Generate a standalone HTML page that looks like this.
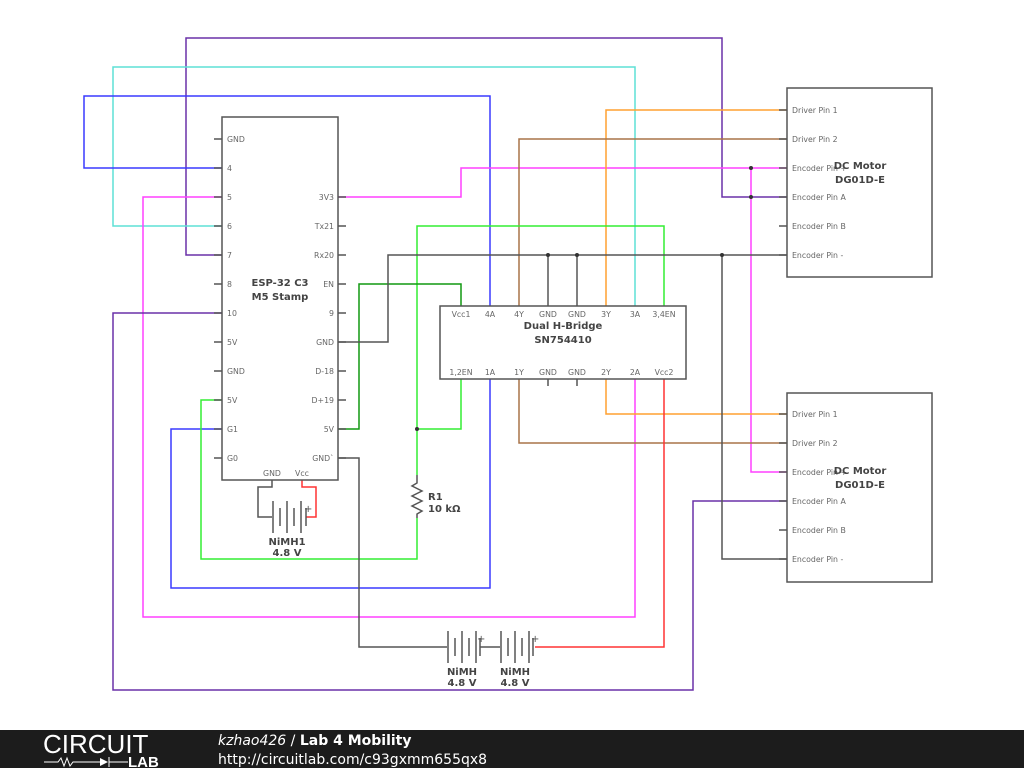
<!DOCTYPE html>
<html><head><meta charset="utf-8"><style>
body{margin:0;width:1024px;height:768px;overflow:hidden;background:#fff}
svg{display:block}
text{font-family:"DejaVu Sans","Liberation Sans",sans-serif}
.p{font-size:7.8px;fill:#666}
.t{font-size:10px;font-weight:bold;fill:#444}
</style></head><body>
<svg width="1024" height="768" viewBox="0 0 1024 768">
<g fill="none" stroke-width="1.5" stroke-linejoin="miter">
<polyline stroke="#6a30a8" points="222,255 186,255 186,38 722,38 722,197 787,197"/>
<polyline stroke="#5fe0d6" points="222,226 113,226 113,67 635,67 635,306"/>
<polyline stroke="#3a3aff" points="222,168 84,168 84,96 490,96 490,306"/>
<polyline stroke="#3a3aff" points="490,379 490,588 171,588 171,429 222,429"/>
<polyline stroke="#ff40ff" points="338,197 461,197 461,168 787,168"/>
<polyline stroke="#ff40ff" points="751,168 751,472 787,472"/>
<polyline stroke="#ff40ff" points="222,197 143,197 143,617 635,617 635,379"/>
<polyline stroke="#6a30a8" points="222,313 113,313 113,690 693,690 693,501 787,501"/>
<polyline stroke="#ffa030" points="606,306 606,110 787,110"/>
<polyline stroke="#ffa030" points="606,379 606,414 787,414"/>
<polyline stroke="#a87448" points="519,306 519,139 787,139"/>
<polyline stroke="#a87448" points="519,379 519,443 787,443"/>
<polyline stroke="#33ee33" points="664,306 664,226 417,226 417,475"/>
<polyline stroke="#33ee33" points="417,429 461,429 461,379"/>
<polyline stroke="#33ee33" points="417,518 417,559 201,559 201,400 222,400"/>
<polyline stroke="#119911" points="461,306 461,284 359,284 359,429 338,429"/>
<polyline stroke="#555" points="338,342 388,342 388,255 787,255"/>
<polyline stroke="#555" points="548,255 548,306"/>
<polyline stroke="#555" points="577,255 577,306"/>
<polyline stroke="#555" points="722,255 722,559 787,559"/>
<polyline stroke="#555" points="338,458 359,458 359,647 447,647"/>
<polyline stroke="#555" points="480,647 500,647"/>
<path stroke="#555" d="M548,379V386M577,379V386"/>
<polyline stroke="#ff3333" points="535,647 664,647 664,379"/>
<polyline stroke="#ff3333" points="302,480 302,487 316,487 316,517 306,517"/>
<polyline stroke="#555" points="272,480 272,487 258,487 258,517 272,517"/>
<polyline stroke="#555" points="417,475 417,483 412,486 422,491 412,496 422,501 412,506 422,511 417,514 417,518"/>
</g>
<g stroke="#555" stroke-width="1.5">
<line x1="273" y1="501" x2="273" y2="533"/><line x1="280" y1="508" x2="280" y2="526"/><line x1="287" y1="501" x2="287" y2="533"/><line x1="294" y1="508" x2="294" y2="526"/><line x1="301" y1="501" x2="301" y2="533"/><line x1="306" y1="508" x2="306" y2="526"/>
<line x1="448" y1="631" x2="448" y2="663"/><line x1="455" y1="638" x2="455" y2="656"/><line x1="462" y1="631" x2="462" y2="663"/><line x1="469" y1="638" x2="469" y2="656"/><line x1="476" y1="631" x2="476" y2="663"/><line x1="480" y1="638" x2="480" y2="656"/>
<line x1="501" y1="631" x2="501" y2="663"/><line x1="508" y1="638" x2="508" y2="656"/><line x1="515" y1="631" x2="515" y2="663"/><line x1="522" y1="638" x2="522" y2="656"/><line x1="529" y1="631" x2="529" y2="663"/><line x1="533" y1="638" x2="533" y2="656"/>
</g>
<g font-size="10" fill="#555"><text x="304" y="512">+</text><text x="477" y="642">+</text><text x="531" y="642">+</text></g>
<g fill="#333"><circle cx="751" cy="168" r="2"/><circle cx="751" cy="197" r="2"/><circle cx="548" cy="255" r="2"/><circle cx="577" cy="255" r="2"/><circle cx="722" cy="255" r="2"/><circle cx="417" cy="429" r="2"/></g>
<g stroke="#555" stroke-width="1.5" fill="none">
<rect x="222" y="117" width="116" height="363"/>
<path d="M214,139h8M214,168h8M214,197h8M214,226h8M214,255h8M214,284h8M214,313h8M214,342h8M214,371h8M214,400h8M214,429h8M214,458h8M338,197h8M338,226h8M338,255h8M338,284h8M338,313h8M338,342h8M338,371h8M338,400h8M338,429h8M338,458h8"/>
<rect x="440" y="306" width="246" height="73"/>
<rect x="787" y="88" width="145" height="189"/>
<rect x="787" y="393" width="145" height="189"/>
<path d="M779,110h8M779,139h8M779,168h8M779,197h8M779,226h8M779,255h8M779,414h8M779,443h8M779,472h8M779,501h8M779,530h8M779,559h8"/>
</g>
<g class="p">
<text x="227" y="142">GND</text><text x="227" y="171">4</text><text x="227" y="200">5</text><text x="227" y="229">6</text><text x="227" y="258">7</text><text x="227" y="287">8</text><text x="227" y="316">10</text><text x="227" y="345">5V</text><text x="227" y="374">GND</text><text x="227" y="403">5V</text><text x="227" y="432">G1</text><text x="227" y="461">G0</text>
<g text-anchor="end"><text x="334" y="200">3V3</text><text x="334" y="229">Tx21</text><text x="334" y="258">Rx20</text><text x="334" y="287">EN</text><text x="334" y="316">9</text><text x="334" y="345">GND</text><text x="334" y="374">D-18</text><text x="334" y="403">D+19</text><text x="334" y="432">5V</text><text x="334" y="461">GND`</text></g>
<g text-anchor="middle"><text x="272" y="476">GND</text><text x="302" y="476">Vcc</text>
<text x="461" y="317">Vcc1</text><text x="490" y="317">4A</text><text x="519" y="317">4Y</text><text x="548" y="317">GND</text><text x="577" y="317">GND</text><text x="606" y="317">3Y</text><text x="635" y="317">3A</text><text x="664" y="317">3,4EN</text>
<text x="461" y="375">1,2EN</text><text x="490" y="375">1A</text><text x="519" y="375">1Y</text><text x="548" y="375">GND</text><text x="577" y="375">GND</text><text x="606" y="375">2Y</text><text x="635" y="375">2A</text><text x="664" y="375">Vcc2</text></g>
<text x="792" y="113">Driver Pin 1</text><text x="792" y="142">Driver Pin 2</text><text x="792" y="171">Encoder Pin +</text><text x="792" y="200">Encoder Pin A</text><text x="792" y="229">Encoder Pin B</text><text x="792" y="258">Encoder Pin -</text>
<text x="792" y="417">Driver Pin 1</text><text x="792" y="446">Driver Pin 2</text><text x="792" y="475">Encoder Pin +</text><text x="792" y="504">Encoder Pin A</text><text x="792" y="533">Encoder Pin B</text><text x="792" y="562">Encoder Pin -</text>
</g>
<g class="t" text-anchor="middle">
<text x="280" y="286">ESP-32 C3</text><text x="280" y="300">M5 Stamp</text>
<text x="563" y="329">Dual H-Bridge</text><text x="563" y="343">SN754410</text>
<text x="860" y="169">DC Motor</text><text x="860" y="183">DG01D-E</text>
<text x="860" y="474">DC Motor</text><text x="860" y="488">DG01D-E</text>
<text x="287" y="545">NiMH1</text><text x="287" y="556">4.8 V</text>
<text x="462" y="675">NiMH</text><text x="462" y="686">4.8 V</text>
<text x="515" y="675">NiMH</text><text x="515" y="686">4.8 V</text>
</g>
<g class="t"><text x="428" y="500">R1</text><text x="428" y="512">10 kΩ</text></g>
<rect x="0" y="730" width="1024" height="38" fill="#1c1c1c"/>
<text x="43" y="753" font-size="26" fill="#fff" style="font-family:'Liberation Sans'">CIRCUIT</text>
<polyline points="44,762 58,762 61,758 64,766 67,758 70,766 73,762 100,762" fill="none" stroke="#fff" stroke-width="1"/>
<path d="M100,758 L108,762 L100,766Z" fill="#fff"/><line x1="109" y1="757" x2="109" y2="767" stroke="#fff"/>
<line x1="109" y1="762" x2="128" y2="762" stroke="#fff"/>
<text x="128" y="767" font-size="15" font-weight="bold" fill="#fff" style="font-family:'Liberation Sans'">LAB</text>
<text x="218" y="745" font-size="14" fill="#fff"><tspan font-style="italic">kzhao426</tspan> / <tspan font-weight="bold">Lab 4 Mobility</tspan></text>
<text x="218" y="764" font-size="14" fill="#fff">http://circuitlab.com/c93gxmm655qx8</text>
</svg>
</body></html>
